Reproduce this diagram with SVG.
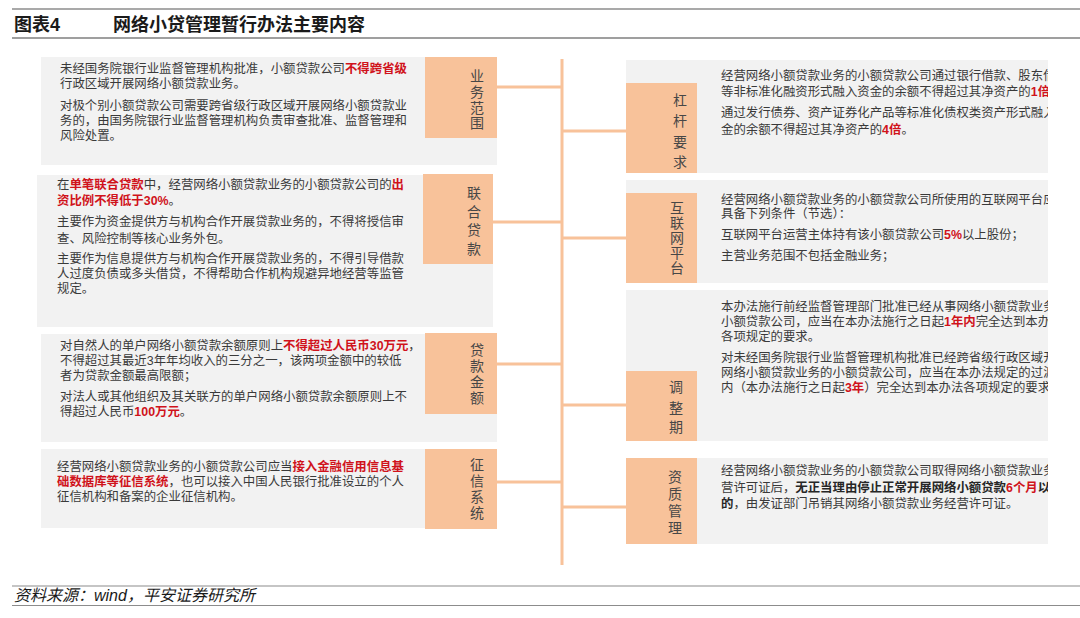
<svg xmlns="http://www.w3.org/2000/svg" width="1080" height="618" viewBox="0 0 1080 618">
<style>
.bg{fill:#F2F2F2}
.lab{fill:#F8C29A}
.t{font-family:"Liberation Sans","Noto Sans CJK SC",sans-serif;font-size:12.4px;fill:#3A3A3A}
.r{fill:#D0121B;font-weight:bold}
.b{font-weight:bold;fill:#262626}
.lt{font-family:"Liberation Sans","Noto Sans CJK SC",sans-serif;font-size:14px;fill:#474747;text-anchor:middle}
.conn{stroke:#F8C29A;stroke-width:3;fill:none}
.hd{font-family:"Liberation Sans","Noto Sans CJK SC",sans-serif;font-size:18px;font-weight:bold;fill:#1A1A1A}
.ft{font-family:"Liberation Sans","Noto Sans CJK SC",sans-serif;font-size:16px;font-style:italic;fill:#1A1A1A}
</style>
<defs>
<clipPath id="rc"><rect x="626" y="0" width="422" height="618"/></clipPath>
</defs>
<rect width="1080" height="618" fill="#FFFFFF"/>
<g id="header">
<line x1="12" y1="9" x2="1080" y2="9" stroke="#8C8C8C" stroke-width="1.5"/>
<text class="hd" x="14" y="31">图表4</text>
<text class="hd" x="113" y="31">网络小贷管理暂行办法主要内容</text>
<line x1="12" y1="38" x2="1080" y2="38" stroke="#404040" stroke-width="1.2"/>
</g>
<g id="connectors">
<line class="conn" x1="562" y1="59" x2="562" y2="565"/>
<line class="conn" x1="497" y1="87" x2="562" y2="87"/>
<line class="conn" x1="493" y1="222" x2="562" y2="222"/>
<line class="conn" x1="497" y1="364" x2="562" y2="364"/>
<line class="conn" x1="497" y1="482" x2="562" y2="482"/>
<line class="conn" x1="562" y1="131" x2="626" y2="131"/>
<line class="conn" x1="562" y1="238" x2="626" y2="238"/>
<line class="conn" x1="562" y1="405" x2="626" y2="405"/>
<line class="conn" x1="562" y1="507" x2="626" y2="507"/>
</g>
<g id="node-yewufanwei">
<rect class="bg" x="41" y="57" width="456" height="108"/>
<rect class="lab" x="425" y="57" width="72" height="81"/>
<text class="lt"><tspan x="477" y="81">业</tspan><tspan x="477" y="97">务</tspan><tspan x="477" y="113">范</tspan><tspan x="477" y="128">围</tspan></text>
<text class="t" x="60" y="72.5">未经国务院银行业监督管理机构批准，小额贷款公司<tspan class="r">不得跨省级</tspan></text>
<text class="t" x="60" y="87.5">行政区域开展网络小额贷款业务。</text>
<text class="t" x="60" y="109.5">对极个别小额贷款公司需要跨省级行政区域开展网络小额贷款业</text>
<text class="t" x="60" y="124.5">务的，由国务院银行业监督管理机构负责审查批准、监督管理和</text>
<text class="t" x="60" y="139.5">风险处置。</text>
</g>
<g id="node-lianhedaikuan">
<rect class="bg" x="37" y="175" width="456" height="152"/>
<rect class="lab" x="423" y="174" width="70" height="90"/>
<text class="lt"><tspan x="474" y="198">联</tspan><tspan x="474" y="216.5">合</tspan><tspan x="474" y="235">贷</tspan><tspan x="474" y="254">款</tspan></text>
<text class="t" x="57" y="188.5">在<tspan class="r">单笔联合贷款</tspan>中，经营网络小额贷款业务的小额贷款公司的<tspan class="r">出</tspan></text>
<text class="t" x="57" y="204.5"><tspan class="r">资比例不得低于30%</tspan>。</text>
<text class="t" x="57" y="226">主要作为资金提供方与机构合作开展贷款业务的，不得将授信审</text>
<text class="t" x="57" y="242.5">查、风险控制等核心业务外包。</text>
<text class="t" x="57" y="263">主要作为信息提供方与机构合作开展贷款业务的，不得引导借款</text>
<text class="t" x="57" y="278">人过度负债或多头借贷，不得帮助合作机构规避异地经营等监管</text>
<text class="t" x="57" y="292.5">规定。</text>
</g>
<g id="node-daikuanjine">
<rect class="bg" x="41" y="334" width="456" height="108"/>
<rect class="lab" x="425" y="333" width="72" height="81"/>
<text class="lt"><tspan x="477" y="355">贷</tspan><tspan x="477" y="371">款</tspan><tspan x="477" y="387">金</tspan><tspan x="477" y="403">额</tspan></text>
<text class="t" x="60" y="349.5">对自然人的单户网络小额贷款余额原则上<tspan class="r">不得超过人民币30万元</tspan>，</text>
<text class="t" x="60" y="364.5">不得超过其最近3年年均收入的三分之一，该两项金额中的较低</text>
<text class="t" x="60" y="379.5">者为贷款金额最高限额；</text>
<text class="t" x="60" y="401">对法人或其他组织及其关联方的单户网络小额贷款余额原则上不</text>
<text class="t" x="60" y="416">得超过人民币<tspan class="r">100万元</tspan>。</text>
</g>
<g id="node-zhengxinxitong">
<rect class="bg" x="41" y="449" width="456" height="79"/>
<rect class="lab" x="425" y="449" width="72" height="80"/>
<text class="lt"><tspan x="477" y="470">征</tspan><tspan x="477" y="486">信</tspan><tspan x="477" y="502">系</tspan><tspan x="477" y="518">统</tspan></text>
<text class="t" x="57" y="470.5">经营网络小额贷款业务的小额贷款公司应当<tspan class="r">接入金融信用信息基</tspan></text>
<text class="t" x="57" y="486"><tspan class="r">础数据库等征信系统</tspan>，也可以接入中国人民银行批准设立的个人</text>
<text class="t" x="57" y="501">征信机构和备案的企业征信机构。</text>
</g>
<g id="node-ganganyaoqiu">
<rect class="bg" x="626" y="60" width="422" height="113"/>
<rect class="lab" x="626" y="83" width="71" height="90"/>
<text class="lt"><tspan x="680" y="105">杠</tspan><tspan x="680" y="126">杆</tspan><tspan x="680" y="147">要</tspan><tspan x="680" y="167">求</tspan></text>
<g clip-path="url(#rc)">
<text class="t" x="721" y="79.5">经营网络小额贷款业务的小额贷款公司通过银行借款、股东借</text>
<text class="t" x="721" y="96">等非标准化融资形式融入资金的余额不得超过其净资产的<tspan class="r">1倍</tspan></text>
<text class="t" x="721" y="117">通过发行债券、资产证券化产品等标准化债权类资产形式融入</text>
<text class="t" x="721" y="133.5">金的余额不得超过其净资产的<tspan class="r">4倍</tspan>。</text>
</g>
</g>
<g id="node-hulianwangpingtai">
<rect class="bg" x="626" y="180" width="422" height="103"/>
<rect class="lab" x="626" y="193" width="71" height="90"/>
<text class="lt"><tspan x="677" y="213">互</tspan><tspan x="677" y="228">联</tspan><tspan x="677" y="243">网</tspan><tspan x="677" y="258">平</tspan><tspan x="677" y="273">台</tspan></text>
<g clip-path="url(#rc)">
<text class="t" x="721" y="203.5">经营网络小额贷款业务的小额贷款公司所使用的互联网平台应</text>
<text class="t" x="721" y="218">具备下列条件（节选）：</text>
<text class="t" x="721" y="239">互联网平台运营主体持有该小额贷款公司<tspan class="r">5%</tspan>以上股份；</text>
<text class="t" x="721" y="259.5">主营业务范围不包括金融业务；</text>
</g>
</g>
<g id="node-tiaozhengqi">
<rect class="bg" x="626" y="290" width="422" height="151"/>
<rect class="lab" x="626" y="371" width="71" height="70"/>
<text class="lt"><tspan x="676" y="392">调</tspan><tspan x="676" y="413">整</tspan><tspan x="676" y="432">期</tspan></text>
<g clip-path="url(#rc)">
<text class="t" x="721" y="310.5">本办法施行前经监督管理部门批准已经从事网络小额贷款业务</text>
<text class="t" x="721" y="325.5">小额贷款公司，应当在本办法施行之日起<tspan class="r">1年内</tspan>完全达到本办</text>
<text class="t" x="721" y="340.5">各项规定的要求。</text>
<text class="t" x="721" y="361.5">对未经国务院银行业监督管理机构批准已经跨省级行政区域开</text>
<text class="t" x="721" y="376.5">网络小额贷款业务的小额贷款公司，应当在本办法规定的过渡</text>
<text class="t" x="721" y="391.5">内（本办法施行之日起<tspan class="r">3年</tspan>）完全达到本办法各项规定的要求</text>
</g>
</g>
<g id="node-zizhiguanli">
<rect class="bg" x="626" y="458" width="422" height="86"/>
<rect class="lab" x="626" y="458" width="71" height="86"/>
<text class="lt"><tspan x="675" y="482">资</tspan><tspan x="675" y="499">质</tspan><tspan x="675" y="516">管</tspan><tspan x="675" y="533">理</tspan></text>
<g clip-path="url(#rc)">
<text class="t" x="721" y="474.5">经营网络小额贷款业务的小额贷款公司取得网络小额贷款业务</text>
<text class="t" x="721" y="491.5">营许可证后，<tspan class="b">无正当理由停止正常开展网络小额贷款</tspan><tspan class="r">6个月</tspan><tspan class="b">以</tspan></text>
<text class="t" x="721" y="508"><tspan class="b">的</tspan>，由发证部门吊销其网络小额贷款业务经营许可证。</text>
</g>
</g>
<g id="footer">
<line x1="12" y1="586" x2="1080" y2="586" stroke="#8C8C8C" stroke-width="1.2"/>
<text class="ft" x="14" y="601">资料来源：wind，平安证券研究所</text>
<line x1="12" y1="605.5" x2="1080" y2="605.5" stroke="#8C8C8C" stroke-width="1.2"/>
</g>
</svg>
